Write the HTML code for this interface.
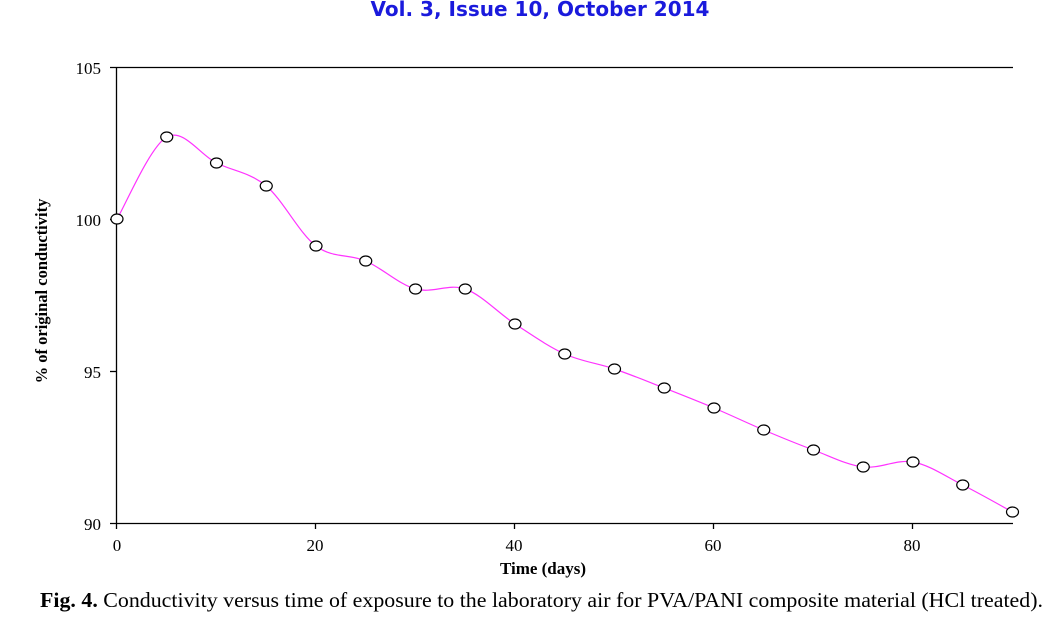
<!DOCTYPE html>
<html><head><style>
body{margin:0;background:#fff;}
svg text{font-family:"Liberation Serif",serif;}
</style></head><body>
<svg width="1063" height="631" xmlns="http://www.w3.org/2000/svg">
<text x="540" y="16" text-anchor="middle" style="font-family:'DejaVu Sans',sans-serif;font-weight:bold;font-size:20px" fill="#1a1adc">Vol. 3, Issue 10, October 2014</text>
<g stroke="#000" stroke-width="1.3" fill="none">
<line x1="110" y1="67.5" x2="1013" y2="67.5"/>
<line x1="116.5" y1="67" x2="116.5" y2="523"/>
<line x1="110" y1="523.5" x2="1013" y2="523.5"/>
<line x1="110" y1="219.5" x2="116" y2="219.5"/>
<line x1="110" y1="371.5" x2="116" y2="371.5"/>
<line x1="116.5" y1="523" x2="116.5" y2="529"/>
<line x1="315.5" y1="523" x2="315.5" y2="529"/>
<line x1="514.5" y1="523" x2="514.5" y2="529"/>
<line x1="713.5" y1="523" x2="713.5" y2="529"/>
<line x1="912.5" y1="523" x2="912.5" y2="529"/>
</g>
<g font-size="17" fill="#000" text-anchor="end">
<text x="101" y="74">105</text><text x="101" y="226">100</text><text x="101" y="378">95</text><text x="101" y="530">90</text>
</g>
<g font-size="17" fill="#000" text-anchor="middle">
<text x="117" y="551">0</text><text x="315" y="551">20</text><text x="514" y="551">40</text><text x="713" y="551">60</text><text x="912" y="551">80</text>
</g>
<text x="543" y="574" text-anchor="middle" font-size="17" font-weight="bold">Time (days)</text>
<text transform="translate(47,291) rotate(-90)" text-anchor="middle" font-size="16.5" font-weight="bold">% of original conductivity</text>
<text x="40" y="607" font-size="21" textLength="1003" lengthAdjust="spacingAndGlyphs"><tspan font-weight="bold">Fig. 4.</tspan> Conductivity versus time of exposure to the laboratory air for PVA/PANI composite material (HCl treated).</text>
<path fill="none" stroke="#ff33ff" stroke-width="1.2" d="M117,219 C125.3,205.3 150.2,146.3 166.75,137 C183.3,127.7 199.9,154.8 216.5,163 C233.1,171.2 249.7,172.2 266.25,186 C282.8,199.8 299.4,233.5 316,246 C332.6,258.5 349.2,253.8 365.75,261 C382.3,268.2 398.9,284.3 415.5,289 C432.1,293.7 448.7,283.2 465.25,289 C481.8,294.8 498.4,313.2 515,324 C531.6,334.8 548.2,346.5 564.75,354 C581.3,361.5 597.9,363.3 614.5,369 C631.1,374.7 647.7,381.5 664.25,388 C680.8,394.5 697.4,401 714,408 C730.6,415 747.2,423 763.75,430 C780.3,437 796.9,443.8 813.5,450 C830.1,456.2 846.7,465 863.25,467 C879.8,469 896.4,459 913,462 C929.6,465 946.2,476.7 962.75,485 C979.3,493.3 1004.2,507.5 1012.5,512"/>
<g fill="#fff" stroke="#000" stroke-width="1.2">
<ellipse cx="117" cy="219" rx="6" ry="5"/>
<ellipse cx="166.75" cy="137" rx="6" ry="5"/>
<ellipse cx="216.5" cy="163" rx="6" ry="5"/>
<ellipse cx="266.25" cy="186" rx="6" ry="5"/>
<ellipse cx="316" cy="246" rx="6" ry="5"/>
<ellipse cx="365.75" cy="261" rx="6" ry="5"/>
<ellipse cx="415.5" cy="289" rx="6" ry="5"/>
<ellipse cx="465.25" cy="289" rx="6" ry="5"/>
<ellipse cx="515" cy="324" rx="6" ry="5"/>
<ellipse cx="564.75" cy="354" rx="6" ry="5"/>
<ellipse cx="614.5" cy="369" rx="6" ry="5"/>
<ellipse cx="664.25" cy="388" rx="6" ry="5"/>
<ellipse cx="714" cy="408" rx="6" ry="5"/>
<ellipse cx="763.75" cy="430" rx="6" ry="5"/>
<ellipse cx="813.5" cy="450" rx="6" ry="5"/>
<ellipse cx="863.25" cy="467" rx="6" ry="5"/>
<ellipse cx="913" cy="462" rx="6" ry="5"/>
<ellipse cx="962.75" cy="485" rx="6" ry="5"/>
<ellipse cx="1012.5" cy="512" rx="6" ry="5"/>
</g>
</svg>
</body></html>
